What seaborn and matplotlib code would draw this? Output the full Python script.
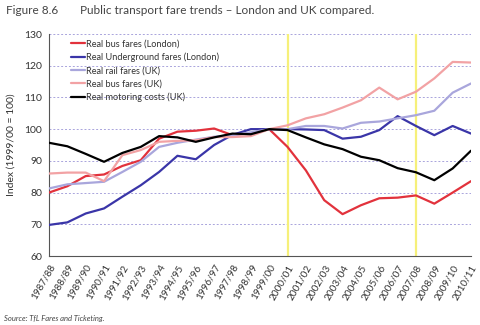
import matplotlib
matplotlib.use("Agg")
import matplotlib.pyplot as plt
import seaborn as sns
import pandas as pd

years = ["1987/88", "1988/89", "1989/90", "1990/91", "1991/92", "1992/93",
         "1993/94", "1994/95", "1995/96", "1996/97", "1997/98", "1998/99",
         "1999/00", "2000/01", "2001/02", "2002/03", "2003/04", "2004/05",
         "2005/06", "2006/07", "2007/08", "2008/09", "2009/10", "2010/11"]

bus_london = [80.0, 82.0, 85.2, 85.7, 88.4, 90.2, 97.0, 99.2, 99.5, 100.2, 98.1, 98.7,
              100.0, 94.4, 87.0, 77.6, 73.2, 76.0, 78.2, 78.4, 79.1, 76.5, 80.0, 83.6]
underground_london = [69.8, 70.6, 73.4, 75.0, 78.7, 82.3, 86.5, 91.6, 90.5, 95.0, 98.2, 100.0,
                      100.0, 100.0, 99.9, 99.7, 97.0, 97.6, 99.7, 104.1, 101.0, 98.1, 101.0, 98.6]
rail_uk = [81.3, 82.6, 83.0, 83.4, 86.5, 89.7, 94.4, 95.7, 96.7, 97.6, 98.0, 99.0,
           100.0, 100.0, 101.0, 101.0, 100.2, 102.0, 102.4, 103.4, 104.4, 105.8, 111.5, 114.4]
bus_uk = [86.0, 86.3, 86.3, 83.6, 91.8, 93.4, 96.0, 96.3, 96.5, 97.5, 97.5, 97.8,
          100.0, 101.2, 103.4, 104.7, 106.8, 109.1, 113.1, 109.4, 111.8, 116.0, 121.2, 121.0]
motoring_uk = [95.7, 94.6, 92.2, 89.7, 92.5, 94.4, 97.8, 97.4, 96.0, 97.4, 98.6, 98.4,
               100.0, 99.7, 97.4, 95.2, 93.7, 91.3, 90.2, 87.7, 86.4, 83.9, 87.6, 93.2]

series_names = ["Real bus fares (London)", "Real Underground fares (London)",
                "Real rail fares (UK)", "Real bus fares (UK)", "Real motoring costs (UK)"]
series_values = [bus_london, underground_london, rail_uk, bus_uk, motoring_uk]
series_colors = ["#e2323c", "#3a35a8", "#a9a6dc", "#f2a2a4", "#000000"]
marker_years = ["2000/01", "2007/08"]

rows = []
for name, vals in zip(series_names, series_values):
    for i, (yr, v) in enumerate(zip(years, vals)):
        rows.append({"pos": i, "year": yr, "series": name, "index": v})
df = pd.DataFrame(rows)

sns.set_theme(style="white")
plt.rcParams["font.family"] = ["Lato", "DejaVu Sans"]

fig = plt.figure(figsize=(4.8, 3.25), dpi=100)
ax = fig.add_axes([49 / 480, 1 - 256 / 325, 422 / 480, 222 / 325])

for yv in range(70, 131, 10):
    ax.axhline(yv, color="#a9a4dc", lw=0.7, ls=(0, (2, 2)), zorder=0)

for yr in marker_years:
    ax.axvline(years.index(yr), color="#f6f07a", lw=1.6, zorder=1)

sns.lineplot(data=df, x="pos", y="index", hue="series", hue_order=series_names,
             palette=series_colors, linewidth=1.6, ax=ax, legend=True, zorder=3)

ax.set_xlim(0, len(years) - 1)
ax.set_ylim(60, 130)
ax.set_xticks(range(len(years)))
ax.set_xticklabels(years, rotation=60, ha="right", va="top", rotation_mode="anchor",
                   fontsize=7.2, color="#333333")
ax.set_yticks(range(60, 131, 10))
ax.set_yticklabels([str(v) for v in range(60, 131, 10)], fontsize=7.5, color="#333333")
ax.tick_params(axis="both", which="both", length=3, width=0.7, color="#555555",
               direction="out", pad=2)
ax.tick_params(axis="x", pad=2)
ax.set_xlabel("")
ax.set_ylabel("Index (1999/00 = 100)", fontsize=7.5, color="#333333", labelpad=6)

for side in ["top", "right"]:
    ax.spines[side].set_visible(False)
for side in ["left", "bottom"]:
    ax.spines[side].set_color("#555555")
    ax.spines[side].set_linewidth(0.8)

leg = ax.legend(loc="upper left", bbox_to_anchor=(0.04, 1.0), frameon=False,
                fontsize=6.6, handlelength=1.5, handletextpad=0.1,
                labelspacing=0.45, borderaxespad=0.2)
for text in leg.get_texts():
    text.set_color("#333333")

fig.text(6 / 480, 1 - 11 / 325, "Figure 8.6", fontsize=8.5, color="#444444",
         va="center", ha="left")
fig.text(80 / 480, 1 - 11 / 325, "Public transport fare trends \u2013 London and UK compared.",
         fontsize=8.5, color="#444444", va="center", ha="left")
fig.text(4 / 480, 1 - 318 / 325, "Source: TfL Fares and Ticketing.", fontsize=5.5,
         style="italic", color="#444444", va="center", ha="left")

fig.savefig("out.png", dpi=100)
